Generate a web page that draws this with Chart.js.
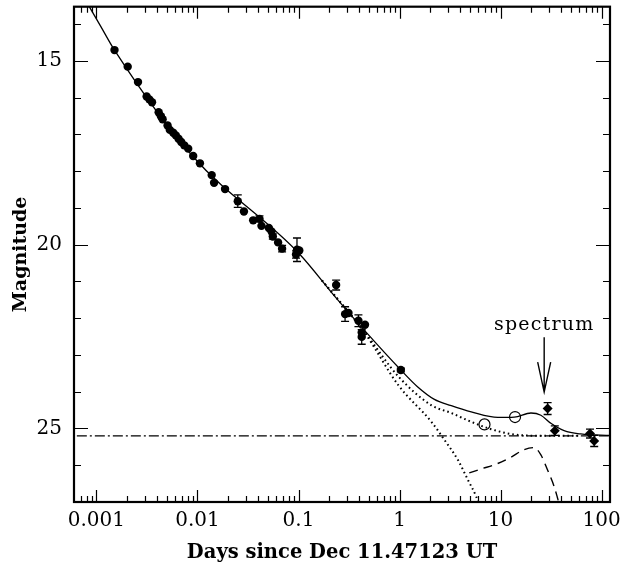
<!DOCTYPE html>
<html><head><meta charset="utf-8">
<script src="https://cdn.jsdelivr.net/npm/chart.js@4.4.0/dist/chart.umd.min.js"></script>
<style>html,body{margin:0;padding:0;background:#fff}#wrap{width:638px;height:563px}</style>
</head><body><div id="wrap"><canvas id="c" width="638" height="563"></canvas></div>
<script>
// ---- data ----
const detT = [0.00151,0.00204,0.00258,0.00314,0.00334,0.00355,0.00413,0.00435,0.00452,0.00506,0.00533,0.00576,0.00611,0.00650,0.00691,0.00740,0.00810,0.00907,0.01058,0.01383,0.0146,0.01875,0.02506,0.02884,0.0356,0.0411,0.0430,0.0509,0.0540,0.0557,0.0628,0.0688,0.0966,0.1018,0.0945,0.2357,0.289,0.3123,0.3918,0.455,0.4222,0.4222,1.03];
const detMag = [14.71,15.16,15.58,15.97,16.05,16.13,16.40,16.51,16.59,16.76,16.88,16.96,17.03,17.12,17.21,17.30,17.39,17.59,17.79,18.11,18.32,18.49,18.82,19.10,19.34,19.30,19.49,19.55,19.64,19.78,19.94,20.11,20.14,20.16,20.27,21.10,21.89,21.86,22.07,22.18,22.39,22.51,23.41];
const detErr = [0,0,0,0,0,0,0,0,0,0,0,0,0,0,0,0,0,0,0,0,0,0,0.17,0,0,0.08,0,0,0,0.07,0,0.09,0.32,0,0.1,0.135,0.2,0,0.16,0,0,0.2,0.05];
const openT = [6.93,13.9];
const openMag = [24.89,24.69];
const diaT = [29.2,34.4,76.7,84.4];
const diaMag = [24.46,25.06,25.14,25.34];
const diaErr = [0.16,0.13,0.12,0.15];

const totalT = [0.000806,0.001107,0.00151,0.00893,0.1011,0.2342,0.452,1.03,1.504,2.212,3.253,4.08,5.12,9.385,13.68,19.98,25.06,31.44,42.52,62.1,122.7];
const totalMag = [13.42,14.07,14.71,17.59,20.24,21.44,22.34,23.41,23.865,24.21,24.38,24.47,24.55,24.70,24.69,24.58,24.64,24.86,25.06,25.15,25.19];
const plHostT = [0.1704,0.452,0.977,2.067,3.253,5.12,8.06,12.69,25.06,60];
const plHostMag = [20.97,22.38,23.59,24.37,24.58,24.82,25.02,25.15,25.2,25.2];
const plT = [0.1704,0.452,0.977,2.067,2.795,3.787,4.752,5.735,6.3];
const plMag = [20.97,22.40,23.83,24.82,25.32,25.86,26.40,26.85,27.15];
const snT = [4.895,6.425,9.03,12.69,16.66,21.38,25.06,29.17,33.9,36.6,37.7];
const snMag = [26.21,26.10,25.97,25.78,25.59,25.52,25.72,26.13,26.58,26.89,27.02];
const hostMag = 25.2;

const xMin = 0.00064, xMax = 121;
const yTop = 13.53, yBottom = 27;
const xLabelValues = [0.001,0.01,0.1,1,10,100];
const xLabelText = ['0.001','0.01','0.1','1','10','100'];
const yLabelValues = [15,20,25];
const spectrumT = 27.0, arrowFromMag = 22.52, arrowToMag = 24.01;
const spectrumLabel = 'spectrum', spectrumLabelMag = 22.2;
const xTitle = 'Days since Dec 11.47123 UT';
const yTitle = 'Magnitude';

// ---- build ----
const pts = (xs, ys) => xs.map((v, i) => ({x: v, y: ys[i]}));
const xTicks = [];
for (let k = -4; k <= 2; k++) for (let m = 1; m <= 9; m++) {
  const v = +(m * Math.pow(10, k)).toPrecision(6);
  if (v >= xMin && v <= xMax) xTicks.push({value: v, isMajor: m === 1});
}
const yTicks = [];
for (let v = Math.ceil(yTop); v <= yBottom; v++) yTicks.push({value: v, isMajor: v % 5 === 0});

const serif = '"DejaVu Serif", serif';

const frame = {
  id: 'frame',
  afterDatasetsDraw(chart) {
    const {ctx, scales: {x, y}} = chart;
    ctx.save();
    ctx.strokeStyle = '#000'; ctx.lineWidth = 1.3;
    const bar = (t, m, e) => {
      if (!e) return;
      const px = x.getPixelForValue(t), p1 = y.getPixelForValue(m - e), p2 = y.getPixelForValue(m + e);
      ctx.beginPath();
      ctx.moveTo(px, p1); ctx.lineTo(px, p2);
      ctx.moveTo(px - 4, p1); ctx.lineTo(px + 4, p1);
      ctx.moveTo(px - 4, p2); ctx.lineTo(px + 4, p2);
      ctx.stroke();
    };
    detT.forEach((t, i) => bar(t, detMag[i], detErr[i]));
    diaT.forEach((t, i) => bar(t, diaMag[i], diaErr[i]));
    ctx.restore();
  },
  afterDraw(chart) {
    const {ctx, chartArea: a, scales: {x, y}} = chart;
    ctx.save();
    ctx.strokeStyle = '#000'; ctx.fillStyle = '#000';
    ctx.lineWidth = 1.2;
    ctx.beginPath();
    x.ticks.forEach(t => {
      const px = Math.round(x.getPixelForValue(t.value)) + 0.5;
      const L = t.isMajor ? 12 : 6;
      ctx.moveTo(px, a.bottom); ctx.lineTo(px, a.bottom - L);
      ctx.moveTo(px, a.top); ctx.lineTo(px, a.top + L);
    });
    y.ticks.forEach(t => {
      const py = Math.round(y.getPixelForValue(t.value)) + 0.5;
      const L = t.isMajor ? 14 : 7;
      ctx.moveTo(a.left, py); ctx.lineTo(a.left + L, py);
      ctx.moveTo(a.right, py); ctx.lineTo(a.right - L, py);
    });
    ctx.stroke();
    ctx.lineWidth = 2.2;
    ctx.strokeRect(a.left, a.top, a.right - a.left, a.bottom - a.top);
    // spectrum arrow
    const ax = x.getPixelForValue(spectrumT);
    const y1 = y.getPixelForValue(arrowFromMag), y2 = y.getPixelForValue(arrowToMag);
    ctx.lineWidth = 1.4;
    ctx.beginPath();
    ctx.moveTo(ax, y1); ctx.lineTo(ax, y2);
    ctx.moveTo(ax - 6.5, y2 - 30); ctx.lineTo(ax, y2); ctx.lineTo(ax + 6.5, y2 - 30);
    ctx.stroke();
    ctx.font = '19px ' + serif;
    try { ctx.letterSpacing = '1.2px'; } catch (e) {}
    ctx.textAlign = 'center'; ctx.textBaseline = 'middle';
    ctx.fillText(spectrumLabel, ax, y.getPixelForValue(spectrumLabelMag));
    ctx.restore();
  }
};

const noPad = s => { s.paddingTop = 0; s.paddingBottom = 0; s.paddingLeft = 0; s.paddingRight = 0; };

new Chart(document.getElementById('c'), {
  type: 'scatter',
  data: {
    datasets: [
      {data: pts([xMin, xMax], [hostMag, hostMag]), showLine: true, borderColor: '#000', borderWidth: 1.3, borderDash: [10, 3, 2, 3], pointRadius: 0},
      {data: pts(plHostT, plHostMag), showLine: true, borderColor: '#000', borderWidth: 2, borderDash: [1.6, 3], pointRadius: 0, cubicInterpolationMode: 'monotone'},
      {data: pts(plT, plMag), showLine: true, borderColor: '#000', borderWidth: 2, borderDash: [1.6, 3], pointRadius: 0, cubicInterpolationMode: 'monotone'},
      {data: pts(snT, snMag), showLine: true, borderColor: '#000', borderWidth: 1.4, borderDash: [9, 6], pointRadius: 0, cubicInterpolationMode: 'monotone'},
      {data: pts(totalT, totalMag), showLine: true, borderColor: '#000', borderWidth: 1.3, pointRadius: 0, cubicInterpolationMode: 'monotone'},
      {data: pts(detT, detMag), pointStyle: 'circle', pointRadius: 4.2, backgroundColor: '#000', borderColor: '#000', borderWidth: 0},
      {data: pts(openT, openMag), pointStyle: 'circle', pointRadius: 5.5, backgroundColor: '#fff', borderColor: '#000', borderWidth: 1.2},
      {data: pts(diaT, diaMag), pointStyle: 'rectRot', pointRadius: 5, backgroundColor: '#000', borderColor: '#000', borderWidth: 0}
    ]
  },
  options: {
    responsive: false, animation: false, devicePixelRatio: 1,
    layout: {padding: {top: 4, right: 28, left: 0, bottom: 0}},
    plugins: {legend: {display: false}, tooltip: {enabled: false}},
    scales: {
      x: {
        type: 'logarithmic', min: xMin, max: xMax, position: 'bottom',
        grid: {display: false, drawTicks: false}, border: {display: false},
        afterBuildTicks: s => { s.ticks = xTicks.map(t => ({...t})); },
        afterFit: s => { s.height = 61; noPad(s); },
        ticks: {autoSkip: false, maxRotation: 0, padding: 7, color: '#000', font: {family: serif, size: 20},
          callback: v => { const i = xLabelValues.findIndex(u => Math.abs(u - v) / u < 1e-6); return i >= 0 ? xLabelText[i] : ''; }},
        title: {display: true, text: xTitle, color: '#000', font: {family: serif, size: 19.5, weight: 'bold', lineHeight: 1}, padding: {top: 0, bottom: 0}}
      },
      y: {
        type: 'linear', min: yTop, max: yBottom, reverse: true, position: 'left',
        grid: {display: false, drawTicks: false}, border: {display: false},
        afterBuildTicks: s => { s.ticks = yTicks.map(t => ({...t})); },
        afterFit: s => { s.width = 74; noPad(s); },
        ticks: {autoSkip: false, padding: 12, color: '#000', font: {family: serif, size: 20},
          callback: v => yLabelValues.includes(v) ? String(v) : ''},
        title: {display: true, text: yTitle, color: '#000', font: {family: serif, size: 19, weight: 'bold', lineHeight: 1}, padding: {top: 12, bottom: 0}}
      }
    }
  },
  plugins: [frame]
});
</script>
</body></html>
